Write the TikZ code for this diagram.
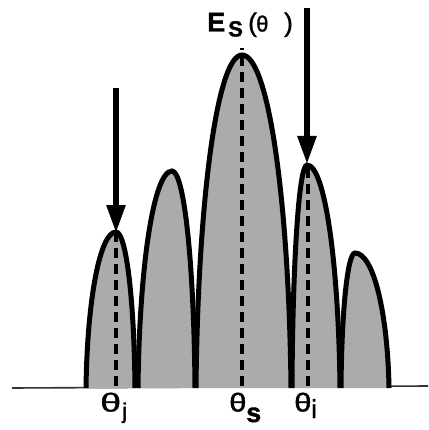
\documentclass[tikz,border=0pt]{standalone}
\usepackage{fontspec}
\setmainfont{Liberation Sans}
\newfontfamily\heavy[FakeBold=1.3]{Liberation Sans}
\usetikzlibrary{arrows.meta}
\newcommand\mylobe[5]{% name, xl, xp, xr, yp
  \pgfmathsetmacro\lA{388-0.56*(388-#5)}%
  \pgfmathsetmacro\lB{#3-0.54*(#3-#2)}%
  \pgfmathsetmacro\lC{#3+0.54*(#4-#3)}%
  \pgfmathsetmacro\lD{#2+0.04*(#3-#2)}%
  \pgfmathsetmacro\lE{#4-0.04*(#4-#3)}%
  \path[lobe] (#2,388) .. controls (\lD,\lA) and (\lB,#5) .. (#3,#5)
     coordinate (#1)
     .. controls (\lC,#5) and (\lE,\lA) .. (#4,388);
}
\newcommand\fs[1]{\fontsize{#1}{#1}\selectfont}
\begin{document}
\begin{tikzpicture}[x=1pt,y=-1pt,
  lobe/.style={fill=black!33,draw=black,line width=5pt},
  axis/.style={draw=black!80,line width=1.6pt},
  centre/.style={draw=black,line width=4pt,dash pattern=on 10pt off 6pt},
  beam/.style={draw=black,line width=5.5pt,-{Triangle[length=28pt,width=18pt]}},
  lab/.style={inner sep=0pt,anchor=base west,font=\heavy\fs{26}}]
\useasboundingbox (0,0) rectangle (428,430);
\coordinate (b0) at (12,388);
\coordinate (b1) at (428,386);
\draw[axis] (b0) -- (b1);
% lobes
\mylobe{pj}{86}{116}{135}{232}
\mylobe{p2}{138}{172}{195}{171}
\mylobe{ps}{196}{242}{291}{55}
\mylobe{pi}{292}{307}{340}{165}
\mylobe{p5}{341}{355}{389}{253}
% centre lines
\coordinate (fj) at (116,386);
\coordinate (fs) at (242,386);
\coordinate (fi) at (308,386);
\coordinate (ts) at (242,48);
\coordinate (ti) at (308,168);
\draw[centre] (fj) -- (pj);
\draw[centre] (fs) -- (ts);
\draw[centre] (fi) -- (ti);
% beams
\coordinate (aj) at (116,88);
\coordinate (ai) at (307,8);
\coordinate (hj) at (116,233);
\coordinate (hi) at (307,164);
\draw[beam] (aj) -- (hj);
\draw[beam] (ai) -- (hi);
% labels
\node[lab] (es) at (207,31.5) {\rlap{\fs{27}\bfseries E}\hspace{21pt}\rlap{\raisebox{-5pt}{\fs{22}\bfseries S}}\hspace{20pt}\rlap{(}\hspace{8pt}\rlap{\fs{22}θ}\hspace{28pt})};
\node[lab] (lj) at (100,411.5) {\rlap{\scalebox{1.45}[1]{θ}}\hspace{22pt}\raisebox{-7pt}{\fs{22}j}};
\node[lab] (ls) at (229,411.5) {\rlap{\scalebox{1.2}[1]{θ}}\hspace{17pt}\raisebox{-10.5pt}{\fs{27}\bfseries s}};
\node[lab] (li) at (294,411.5) {\rlap{\scalebox{1.2}[1]{θ}}\hspace{17pt}\raisebox{-6.5pt}{\fs{26}i}};
\end{tikzpicture}
\end{document}
